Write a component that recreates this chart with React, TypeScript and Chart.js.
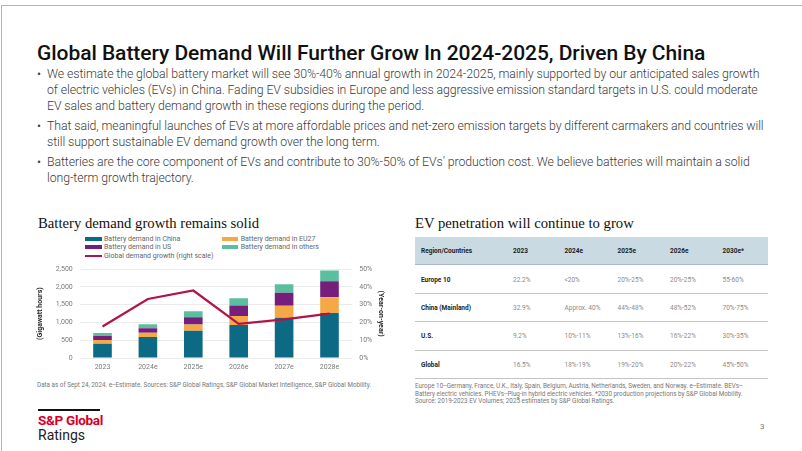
import React, { useEffect, useRef } from "react";
import { Chart, registerables } from "chart.js";

Chart.register(...registerables);

// ---------- Data ----------
const categories = ["2023", "2024e", "2025e", "2026e", "2027e", "2028e"];
const chinaDemand = [400, 590, 770, 930, 1130, 1270];
const eu27Demand = [110, 120, 170, 255, 340, 440];
const usDemand = [110, 130, 210, 295, 365, 450];
const othersDemand = [85, 110, 165, 200, 240, 300];
const globalGrowth = [17.7, 33.2, 38.0, 19.2, 21.7, 25.0];
const leftTicks = [0, 500, 1000, 1500, 2000, 2500];
const rightTicks = [0, 10, 20, 30, 40, 50];

const seriesLabels = [
  "Battery demand in China",
  "Battery demand in EU27",
  "Battery demand in US",
  "Battery demand in others",
  "Global demand growth (right scale)",
];

const tableHeader = ["Region/Countries", "2023", "2024e", "2025e", "2026e", "2030e*"];
const tableRegions = ["Europe 10", "China (Mainland)", "U.S.", "Global"];
const pen2023 = ["22.2%", "32.9%", "9.2%", "16.5%"];
const pen2024 = ["<20%", "Approx. 40%", "10%-11%", "18%-19%"];
const pen2025 = ["20%-25%", "44%-48%", "13%-16%", "19%-20%"];
const pen2026 = ["20%-25%", "48%-52%", "16%-22%", "20%-22%"];
const pen2030 = ["55-60%", "70%-75%", "30%-35%", "45%-50%"];

const bullets = [
  [
    "We estimate the global battery market will see 30%-40% annual growth in 2024-2025, mainly supported by our anticipated sales growth",
    "of electric vehicles (EVs) in China. Fading EV subsidies in Europe and less aggressive emission standard targets in U.S. could moderate",
    "EV sales and battery demand growth in these regions during the period.",
  ],
  [
    "That said, meaningful launches of EVs at more affordable prices and net-zero emission targets by different carmakers and countries will",
    "still support sustainable EV demand growth over the long term.",
  ],
  [
    "Batteries are the core component of EVs and contribute to 30%-50% of EVs\u2019 production cost. We believe batteries will maintain a solid",
    "long-term growth trajectory.",
  ],
];

// ---------- Styles ----------
const COLORS = {
  china: "#0d6a85",
  eu: "#f4a846",
  us: "#761e7c",
  others: "#5bbf9f",
  line: "#b3134b",
};
const SANS = "Roboto, 'Liberation Sans', Arial, sans-serif";
const SERIF = "'Liberation Serif', 'DejaVu Serif', serif";

const abs = (left: number, top: number, extra: any = {}) => ({
  position: "absolute" as const,
  left,
  top,
  whiteSpace: "nowrap" as const,
  ...extra,
});

function BatteryChart() {
  const ref = useRef<HTMLCanvasElement | null>(null);
  useEffect(() => {
    if (!ref.current) return;
    const tickFont = { family: SANS, size: 7 };
    const chart = new Chart(ref.current, {
      type: "bar",
      data: {
        labels: categories,
        datasets: [
          {
            type: "line",
            label: seriesLabels[4],
            data: globalGrowth,
            yAxisID: "y1",
            borderColor: COLORS.line,
            borderWidth: 2.2,
            pointRadius: 0,
            tension: 0,
            order: 0,
          } as any,
          { label: seriesLabels[0], data: chinaDemand, backgroundColor: COLORS.china, yAxisID: "y", order: 1 },
          { label: seriesLabels[1], data: eu27Demand, backgroundColor: COLORS.eu, yAxisID: "y", order: 1 },
          { label: seriesLabels[2], data: usDemand, backgroundColor: COLORS.us, yAxisID: "y", order: 1 },
          { label: seriesLabels[3], data: othersDemand, backgroundColor: COLORS.others, yAxisID: "y", order: 1 },
        ],
      },
      options: {
        animation: false,
        responsive: false,
        maintainAspectRatio: false,
        layout: { padding: { top: 9, left: 0, right: 0, bottom: 0 } },
        plugins: { legend: { display: false }, tooltip: { enabled: false } },
        datasets: { bar: { categoryPercentage: 0.41, barPercentage: 1 } },
        scales: {
          x: {
            stacked: true,
            grid: { display: false, drawTicks: false },
            border: { display: false },
            ticks: { font: tickFont, color: "#7a7a7a", padding: 5 },
            afterFit: (s: any) => {
              s.height = 18;
            },
          },
          y: {
            stacked: true,
            position: "left",
            min: 0,
            max: 2500,
            afterBuildTicks: (s: any) => {
              s.ticks = leftTicks.map((v) => ({ value: v }));
            },
            ticks: {
              font: tickFont,
              color: "#7a7a7a",
              padding: 7,
              callback: (v: any) => Number(v).toLocaleString("en-US"),
            },
            grid: { color: "#ebebeb", drawTicks: false, lineWidth: 1 },
            border: { display: false },
            title: {
              display: true,
              text: "(Gigawatt hours)",
              color: "#2b2b2b",
              font: { family: SANS, size: 7, weight: "bold" },
              padding: { top: 5.8, bottom: 0 },
            },
            afterFit: (s: any) => {
              s.width = 49.8;
            },
          },
          y1: {
            position: "right",
            min: 0,
            max: 50,
            afterBuildTicks: (s: any) => {
              s.ticks = rightTicks.map((v) => ({ value: v }));
            },
            ticks: {
              font: tickFont,
              color: "#7a7a7a",
              padding: 7,
              callback: (v: any) => v + "%",
            },
            grid: { display: false, drawTicks: false },
            border: { display: false },
            title: {
              display: true,
              text: "(Year-on-year)",
              color: "#2b2b2b",
              font: { family: SANS, size: 7, weight: "bold" },
              padding: { top: 14.8, bottom: 0 },
            },
            afterFit: (s: any) => {
              s.width = 47.8;
            },
          },
        },
      } as any,
    });
    return () => chart.destroy();
  }, []);
  return (
    <canvas
      ref={ref}
      width={370}
      height={118}
      style={{ position: "absolute", left: 30, top: 258, width: 370, height: 118 }}
    />
  );
}

function LegendItem({ x, y, color, label, line }: any) {
  return (
    <div style={abs(x, y - 5, { height: 10, display: "flex", alignItems: "center" })}>
      <div style={{ width: 16.5, height: line ? 2 : 4, background: color, marginRight: 2.5 }} />
      <span style={{ font: `7px ${SANS}`, color: "#666", lineHeight: "10px" }}>{label}</span>
    </div>
  );
}

export default function App() {
  useEffect(() => {
    document.body.style.margin = "0";
  }, []);
  const colX = [421, 513, 564.5, 617.5, 670, 722.5];
  const rowY = [279.5, 308, 336, 364.5];
  const sepY = [293, 321, 349.5, 378];
  const dataCols = [pen2023, pen2024, pen2025, pen2026, pen2030];
  const bulletTops = [66, 118, 154];
  return (
    <div
      style={{
        position: "fixed",
        left: 0,
        top: 0,
        width: 802,
        height: 451,
        background: "#fff",
        overflow: "hidden",
        fontFamily: SANS,
      }}
    >
      {/* slide frame */}
      <div style={{ position: "absolute", left: 1, top: 5, width: 1, height: 446, background: "#b5b5b5" }} />
      <div style={{ position: "absolute", left: 1, top: 5, width: 801, height: 1, background: "#b5b5b5" }} />

      {/* Title */}
      <div
        style={abs(37, 40, {
          font: `500 21px ${SANS}`,
          lineHeight: "26px",
          color: "#111",
          letterSpacing: "-0.05px",
        })}
      >
        Global Battery Demand Will Further Grow In 2024-2025, Driven By China
      </div>

      {/* Bullets */}
      {bullets.map((lines, i) => (
        <div key={i} style={abs(37, bulletTops[i], { font: `300 12.3px ${SANS}`, lineHeight: "16px", color: "#3a3a3a" })}>
          <span style={{ position: "absolute", left: 0, top: 0 }}>•</span>
          <div style={{ marginLeft: 10, letterSpacing: "-0.08px" }}>
            {lines.map((l, j) => (
              <div key={j}>{l}</div>
            ))}
          </div>
        </div>
      ))}

      {/* Chart title */}
      <div style={abs(38, 213, { font: `14.7px ${SERIF}`, lineHeight: "20px", color: "#111" })}>
        Battery demand growth remains solid
      </div>

      {/* Legend */}
      <LegendItem x={85} y={239.3} color={COLORS.china} label={seriesLabels[0]} />
      <LegendItem x={221.7} y={239.3} color={COLORS.eu} label={seriesLabels[1]} />
      <LegendItem x={85} y={247.3} color={COLORS.us} label={seriesLabels[2]} />
      <LegendItem x={221.7} y={247.3} color={COLORS.others} label={seriesLabels[3]} />
      <LegendItem x={85} y={255.7} color={COLORS.line} label={seriesLabels[4]} line />

      <BatteryChart />

      {/* Left footnote */}
      <div style={abs(37, 381, { font: `6.3px ${SANS}`, lineHeight: "8px", color: "#777" })}>
        Data as of Sept 24, 2024. e--Estimate. Sources: S&amp;P Global Ratings, S&amp;P Global Market Intelligence, S&amp;P
        Global Mobility.
      </div>

      {/* Table title */}
      <div style={abs(415, 213, { font: `14.7px ${SERIF}`, lineHeight: "20px", color: "#111" })}>
        EV penetration will continue to grow
      </div>

      {/* Table */}
      <div style={{ position: "absolute", left: 415, top: 237, width: 353, height: 27, background: "#c9dae2" }} />
      <div style={{ position: "absolute", left: 415, top: 263.5, width: 353, height: 1, background: "#a9b9c1" }} />
      {tableHeader.map((h, c) => (
        <div
          key={h}
          style={abs(colX[c], 251 - 5, { font: `bold 6.5px ${SANS}`, lineHeight: "10px", color: "#222" })}
        >
          {h}
        </div>
      ))}
      {tableRegions.map((r, i) => (
        <React.Fragment key={r}>
          <div style={abs(colX[0], rowY[i] - 5, { font: `bold 6.5px ${SANS}`, lineHeight: "10px", color: "#222" })}>
            {r}
          </div>
          {dataCols.map((col, c) => (
            <div
              key={c}
              style={abs(colX[c + 1], rowY[i] - 5, { font: `6.5px ${SANS}`, lineHeight: "10px", color: "#8a8a8a" })}
            >
              {col[i]}
            </div>
          ))}
          <div style={{ position: "absolute", left: 415, top: sepY[i], width: 353, height: 1, background: "#c4c4c4" }} />
        </React.Fragment>
      ))}

      {/* Right footnote */}
      <div style={abs(415, 383, { font: `6.3px ${SANS}`, lineHeight: "7.6px", color: "#777" })}>
        <div>
          Europe 10--Germany, France, U.K., Italy, Spain, Belgium, Austria, Netherlands, Sweden, and Norway. e--Estimate.
          BEVs--
        </div>
        <div>
          Battery electric vehicles. PHEVs--Plug-in hybrid electric vehicles. *2030 production projections by S&amp;P
          Global Mobility.
        </div>
        <div>Source: 2019-2023 EV Volumes; 2025 estimates by S&amp;P Global Ratings.</div>
      </div>

      {/* Logo */}
      <div style={{ position: "absolute", left: 38, top: 409, width: 62, height: 2, background: "#111" }} />
      <div style={abs(38, 413, { font: `bold 13.5px ${SANS}`, lineHeight: "14px", color: "#d6002a", letterSpacing: "-0.3px" })}>
        S&amp;P Global
      </div>
      <div style={abs(38, 427.5, { font: `14px ${SANS}`, lineHeight: "14px", color: "#222" })}>Ratings</div>

      {/* Page number */}
      <div style={abs(760, 422, { font: `8px ${SANS}`, lineHeight: "10px", color: "#777" })}>3</div>
    </div>
  );
}
